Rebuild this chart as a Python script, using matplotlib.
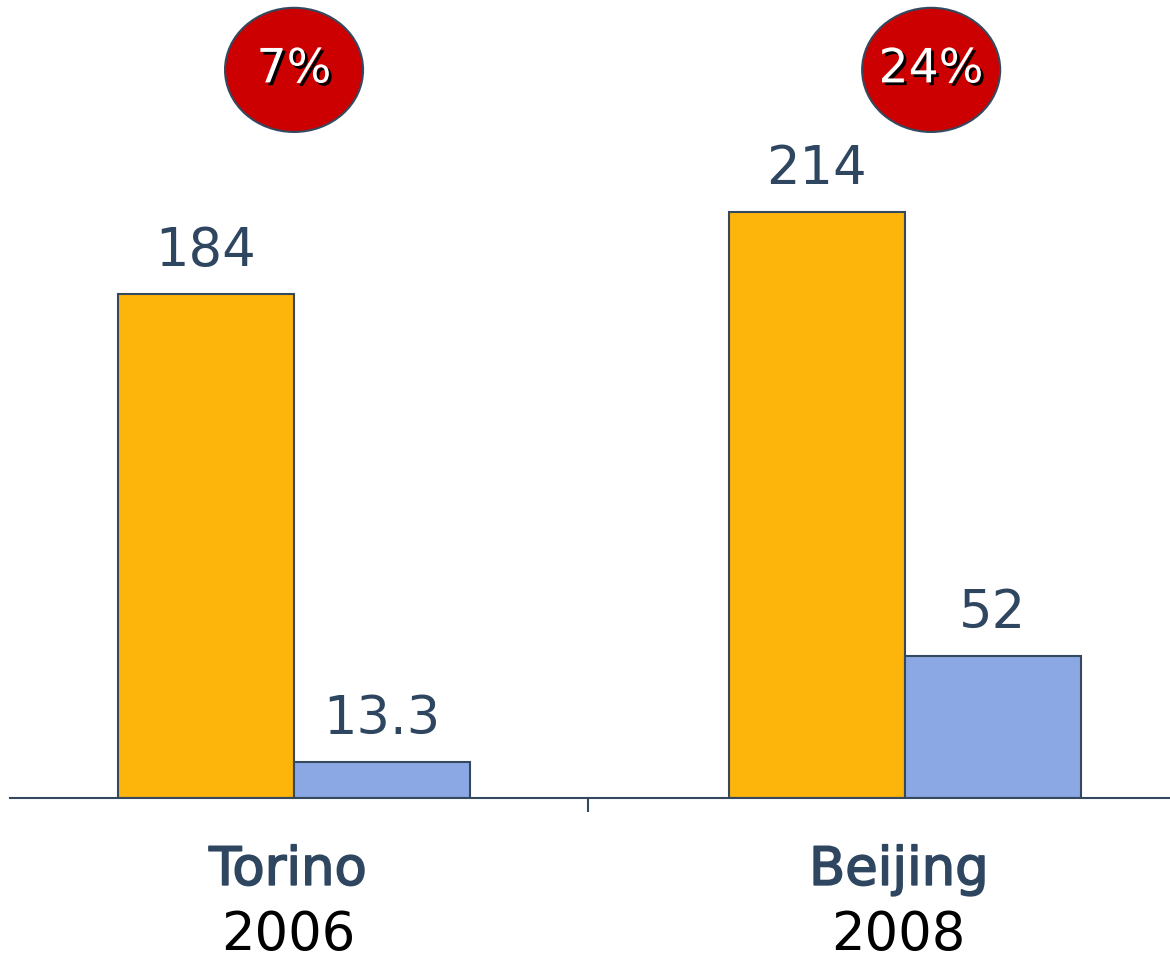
import matplotlib.pyplot as plt
import matplotlib.patheffects as pe
from matplotlib.patches import Ellipse
import numpy as np

# medal-ish numbers for two games
cities = ["Torino", "Beijing"]
years = ["2006", "2008"]
total_vals = [184, 214]
share_vals = [13.3, 52]
pct_labels = ["7%", "24%"]

orange = "#FDB40B"
blue = "#8BA8E4"
slate = "#34495E"
txt_col = "#2F4660"

fig = plt.figure(figsize=(11.7, 9.6), dpi=100)
ax = fig.add_axes([10 / 1170, 162 / 960, 1160 / 1170, 798 / 960])

x = np.arange(len(cities))
w = 0.288
b1 = ax.bar(x - w / 2, total_vals, w, color=orange, edgecolor=slate, linewidth=1.5)
b2 = ax.bar(x + w / 2, share_vals, w, color=blue, edgecolor=slate, linewidth=1.5)

ax.set_xlim(-0.465, 1.434)
ax.set_ylim(0, 291.2)

for bars, vals in [(b1, total_vals), (b2, share_vals)]:
    for r, v in zip(bars, vals):
        ax.annotate(f"{v:g}", (r.get_x() + r.get_width() / 2, v),
                    xytext=(0, 20), textcoords="offset points",
                    ha="center", va="baseline", fontsize=38, color=txt_col)

# red bubbles with percentages
bub_x = [0.0, 1.043]
for bx, lab in zip(bub_x, pct_labels):
    ax.add_patch(Ellipse((bx, 265.7), 0.226, 45.3, facecolor="#CC0000",
                         edgecolor=slate, linewidth=1.5, clip_on=False, zorder=3))
    ax.text(bx, 265.7, lab, ha="center", va="center", fontsize=34, color="white",
            zorder=4,
            path_effects=[pe.withSimplePatchShadow(offset=(2, -2), shadow_rgbFace="black", alpha=1)])

for spine in ["top", "left", "right"]:
    ax.spines[spine].set_visible(False)
ax.spines["bottom"].set_color(slate)
ax.spines["bottom"].set_linewidth(1.5)
ax.set_yticks([])
ax.set_xticks([0.481])
ax.set_xticklabels([""])
ax.tick_params(axis="x", length=10, width=1.5, color=slate, direction="out")

for xi, c, yr in zip(x, cities, years):
    ax.text(xi - 0.01, -0.09, c, transform=ax.get_xaxis_transform(), ha="center",
            va="center", fontsize=38, color=txt_col,
            path_effects=[pe.withStroke(linewidth=1.2, foreground=txt_col)])
    ax.text(xi - 0.01, -0.172, yr, transform=ax.get_xaxis_transform(), ha="center",
            va="center", fontsize=38, color="black")

fig.savefig("out.png", dpi=100)
